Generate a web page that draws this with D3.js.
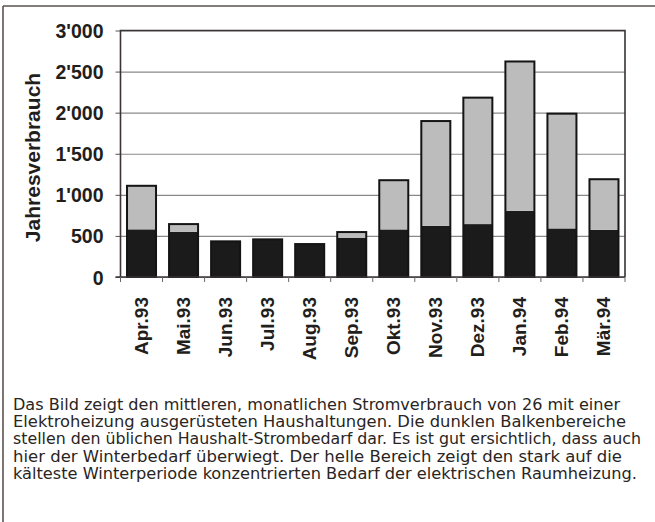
<!DOCTYPE html>
<html><head><meta charset="utf-8">
<script src="https://cdn.jsdelivr.net/npm/d3@7"></script>
<style>
html,body{margin:0;padding:0;background:#fff;}
svg{display:block;}
</style></head>
<body>
<script>
const months = ["Apr.93","Mai.93","Jun.93","Jul.93","Aug.93","Sep.93","Okt.93","Nov.93","Dez.93","Jan.94","Feb.94","Mär.94"];
const haushalt = [580, 550, 434, 458, 401, 478, 579, 623, 644, 805, 591, 574];
const heizung  = [530,  94,   0,   0,   0,  69, 599, 1275, 1539, 1818, 1397, 616];
const yTicks = [0, 500, 1000, 1500, 2000, 2500, 3000];
const yTitle = "Jahresverbrauch";
const caption = [
  "Das Bild zeigt den mittleren, monatlichen Stromverbrauch von 26 mit einer",
  "Elektroheizung ausgerüsteten Haushaltungen. Die dunklen Balkenbereiche",
  "stellen den üblichen Haushalt-Strombedarf dar. Es ist gut ersichtlich, dass auch",
  "hier der Winterbedarf überwiegt. Der helle Bereich zeigt den stark auf die",
  "kälteste Winterperiode konzentrierten Bedarf der elektrischen Raumheizung."
];
const captionEnds = [620, 626, 641, 622, 637];

const W = 655, H = 522;
const m = {left:120.5, right:625, top:30.5, bottom:277};
const svg = d3.select("body").append("svg").attr("width", W).attr("height", H);

const ink = "#221e1c";
// outer frame
svg.append("line").attr("x1",3).attr("x2",655).attr("y1",6).attr("y2",6).attr("stroke","#5a5250").attr("stroke-width",1.6);
svg.append("line").attr("x1",3).attr("x2",3).attr("y1",6).attr("y2",522).attr("stroke","#5a5250").attr("stroke-width",1.6);

const x = d3.scaleBand().domain(months).range([m.left, m.right]).paddingInner(0.31).paddingOuter(0.155);
const y = d3.scaleLinear().domain([0, 3000]).range([m.bottom, m.top]);

// gridlines
svg.append("g").attr("transform",`translate(${m.left},0)`)
  .call(d3.axisLeft(y).tickValues(yTicks).tickSize(-(m.right-m.left)).tickFormat(""))
  .call(g=>g.select(".domain").remove())
  .call(g=>g.selectAll("line").attr("stroke","#8c8888").attr("stroke-width",1.2));

// y axis ticks + labels
const fmt = d => d3.format(",")(d).replace(/,/g, "'");
svg.append("g").attr("transform",`translate(${m.left},0)`)
  .call(d3.axisLeft(y).tickValues(yTicks).tickSize(5).tickSizeOuter(0).tickPadding(12).tickFormat(fmt))
  .call(g=>g.select(".domain").remove())
  .call(g=>g.selectAll("line").attr("stroke","#555").attr("stroke-width",1))
  .call(g=>g.selectAll("text").attr("font-family","'Liberation Sans', Arial, sans-serif")
     .attr("font-weight","bold").attr("font-size",19.5).attr("fill",ink).attr("dy","0.36em"));

// stacked bars
const rows = months.map((mo,i)=>({month:mo, haushalt:haushalt[i], heizung:heizung[i]}));
const stack = d3.stack().keys(["haushalt","heizung"])(rows);
const colors = {haushalt:"#1b1b1b", heizung:"#bcbcbc"};
svg.append("g").selectAll("g").data(stack).join("g")
  .attr("fill", d=>colors[d.key])
  .selectAll("rect").data(d=>d).join("rect")
  .attr("x", d=>x(d.data.month)).attr("width", x.bandwidth())
  .attr("y", d=>y(d[1])).attr("height", d=>y(d[0])-y(d[1]));
// outline of each bar
svg.append("g").selectAll("rect").data(stack[1]).join("rect")
  .attr("x", d=>x(d.data.month)).attr("width", x.bandwidth())
  .attr("y", d=>y(d[1])).attr("height", d=>y(0)-y(d[1]))
  .attr("fill","none").attr("stroke","#141414").attr("stroke-width",2);

// plot frame (left, top, right, bottom)
svg.append("path")
  .attr("d",`M${m.left},${m.bottom}V${m.top}H${m.right}V${m.bottom}`)
  .attr("fill","none").attr("stroke","#3a3434").attr("stroke-width",1.6);
svg.append("line").attr("x1",m.left-5).attr("x2",m.right).attr("y1",m.bottom).attr("y2",m.bottom)
  .attr("stroke","#3a3434").attr("stroke-width",1.4);

// x boundary ticks
const bounds = d3.range(months.length+1).map(i=>m.left + i*x.step());
svg.append("g").selectAll("line").data(bounds).join("line")
  .attr("x1",d=>d).attr("x2",d=>d).attr("y1",m.bottom).attr("y2",m.bottom+5)
  .attr("stroke","#666").attr("stroke-width",1);

// x labels
svg.append("g").attr("transform",`translate(0,${m.bottom})`)
  .call(d3.axisBottom(x).tickSize(0).tickPadding(0))
  .call(g=>g.select(".domain").remove())
  .call(g=>g.selectAll("text")
     .attr("font-family","'Liberation Sans', Arial, sans-serif").attr("font-weight","bold")
     .attr("font-size",19).attr("fill",ink)
     .attr("text-anchor","end").attr("dy",null).attr("y",0)
     .attr("transform","translate(6.5,20) rotate(-90)"));

// y title
svg.append("text").attr("transform","translate(40,157.5) rotate(-90)")
  .attr("text-anchor","middle")
  .attr("font-family","'Liberation Sans', Arial, sans-serif").attr("font-weight","bold")
  .attr("font-size",21).attr("fill",ink).text(yTitle);

// caption
const cap = svg.append("g");
caption.forEach((t,i)=>{
  cap.append("text").attr("x",13).attr("y",409.5 + i*17.35)
    .attr("font-family","'Liberation Sans Narrow', 'DejaVu Sans Condensed', sans-serif").attr("font-size",15.5)
    .attr("fill","#2a2523")
    .attr("textLength", captionEnds[i]-13).attr("lengthAdjust","spacingAndGlyphs")
    .text(t);
});
</script>
</body></html>
